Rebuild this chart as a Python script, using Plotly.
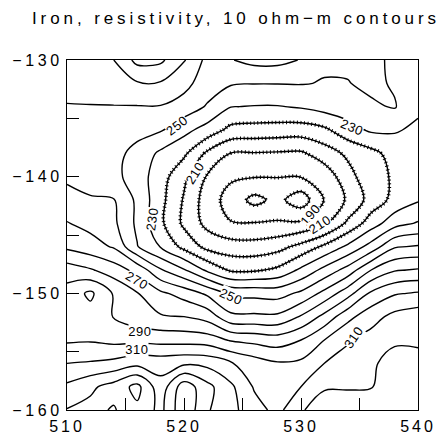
import plotly.graph_objects as go

# Grid of the survey (easting, northing)
x_east = [510, 512, 514, 516, 518, 520, 522, 524, 526, 528, 530, 532, 534, 536, 538, 540]
y_north = [-130, -132, -134, -136, -138, -140, -142, -144, -146, -148, -150, -152, -154, -156, -158, -160]

# Resistivity (ohm-m), one row per northing
row_m130 = [255, 257, 260, 273, 272, 261, 247, 249.5, 253, 253, 249.5, 241.5, 242.5, 244, 237, 236]
row_m132 = [253, 255, 257, 259, 259, 253, 245, 241, 240.3, 240.3, 240.5, 239.5, 239.5, 243, 238.5, 235]
row_m134 = [249.5, 249.5, 249.5, 249.5, 249.5, 246, 239, 230.3, 229.5, 229.5, 231, 234, 235.5, 238, 241, 232]
row_m136 = [247, 246, 245, 243, 241, 233, 226, 217, 216, 215.5, 215, 218, 226, 231.5, 231, 228]
row_m138 = [245, 244, 243, 237, 228, 222, 208, 199.8, 199.5, 199, 198.5, 205, 212, 217, 224, 225]
row_m140 = [248, 246, 243, 235, 224.5, 212, 199, 191.5, 190.5, 190.3, 190.5, 194, 206, 217, 221, 226]
row_m142 = [254, 251, 250.5, 238, 223, 209, 195, 186, 177, 183, 174, 190.5, 201.5, 214, 223, 229]
row_m144 = [260.5, 257, 252, 238, 222, 208, 197, 190.5, 190.5, 191, 192, 198, 212, 225, 236, 241]
row_m146 = [268, 264, 259, 240.5, 229.5, 217, 207, 204.5, 204, 206.5, 213, 222, 232, 244, 259, 261]
row_m148 = [285, 281, 275, 267, 251, 241, 228, 218.5, 218.5, 222, 232, 243, 254, 270, 279, 281]
row_m150 = [294, 302, 289, 280.5, 272, 266, 258, 247.5, 247, 246, 252, 263, 276, 292, 299, 301]
row_m152 = [296, 296, 289.5, 284, 281, 280, 276, 262.5, 262, 262, 271, 283, 297, 306, 313, 316]
row_m154 = [298.5, 299, 297, 297.5, 296.5, 296, 295, 289, 287, 285, 290, 300, 309, 314, 318, 319]
row_m156 = [310, 311, 313, 317, 316, 318, 317, 311, 305, 301, 302, 310, 314, 318, 325, 322]
row_m158 = [322, 328, 334, 343, 323.5, 346, 333, 322, 309, 305, 310, 319, 319, 319.5, 324, 323]
row_m160 = [330.5, 333, 329, 338, 327, 348, 331, 323, 314, 307, 319, 325, 326, 327, 326, 323]

resistivity = [row_m130, row_m132, row_m134, row_m136, row_m138, row_m140, row_m142, row_m144,
               row_m146, row_m148, row_m150, row_m152, row_m154, row_m156, row_m158, row_m160]

# contour levels: depressions (hachured) and the rest
low_start, low_end = 180, 220
high_start, high_end = 230, 350
interval = 10

# contour labels as printed on the map
label_text = ["250", "230", "210", "230", "190", "210", "270", "250", "290", "310", "310"]
label_x = [519.4, 534.4, 520.9, 517.3, 530.8, 531.6, 516.0, 524.0, 516.2, 516.0, 534.5]
label_y = [-135.6, -135.8, -139.7, -143.6, -143.2, -144.1, -148.9, -150.3, -153.3, -154.8, -153.8]
label_angle = [-38, 22, -58, -82, -50, -32, 30, 24, 0, 0, -55]

FONT = "Liberation Sans, Arial, sans-serif"

fig = go.Figure()

common = dict(x=x_east, y=y_north, z=resistivity, showscale=False, hoverinfo="skip")

fig.add_trace(go.Contour(
    **common,
    contours=dict(coloring="none", start=high_start, end=high_end, size=interval, showlabels=False),
    line=dict(color="black", width=1.4, smoothing=1.0),
))
fig.add_trace(go.Contour(
    **common,
    contours=dict(coloring="none", start=low_start, end=low_end, size=interval, showlabels=False),
    line=dict(color="black", width=1.4, smoothing=1.0),
))
# hachure marks on depression contours
fig.add_trace(go.Contour(
    **common,
    contours=dict(coloring="none", start=low_start, end=low_end, size=interval, showlabels=False),
    line=dict(color="black", width=3.6, dash="1px,2.6px", smoothing=1.0),
))

for t, lx, ly, ang in zip(label_text, label_x, label_y, label_angle):
    fig.add_annotation(x=lx, y=ly, text=t, textangle=ang, showarrow=False,
                       font=dict(family=FONT, size=13, color="black"),
                       bgcolor="white", borderpad=0)

axis_common = dict(
    showgrid=False, zeroline=False, automargin=False,
    showline=True, linecolor="black", linewidth=1.3, mirror=True,
    ticks="inside", ticklen=12, tickwidth=1.3, tickcolor="black",
    tickfont=dict(family=FONT, size=16, color="black"),
    dtick=10,
)

fig.update_layout(
    width=442, height=440, autosize=False,
    margin=dict(l=67, r=24, t=60, b=30),
    paper_bgcolor="white", plot_bgcolor="white",
    title=dict(text="Iron, resistivity, 10 ohm\u2212m contours",
               xref="container", x=32 / 442, xanchor="left", y=0.958, yanchor="middle",
               font=dict(family=FONT, size=17, color="black")),
    xaxis=dict(range=[510, 540], tick0=510, ticklabelstandoff=2,
               minor=dict(ticks="inside", ticklen=12, tickwidth=1.3, tickcolor="black", dtick=5, tick0=510, showgrid=False),
               **axis_common),
    yaxis=dict(range=[-160, -130], tick0=-160,
               minor=dict(ticks="inside", ticklen=12, tickwidth=1.3, tickcolor="black", dtick=5, tick0=-160, showgrid=False),
               **axis_common),
    showlegend=False,
)

post = """
var s = document.createElement('style');
s.innerHTML = '.gtitle{letter-spacing:3.9px} .xtick text{letter-spacing:3px} .ytick text{letter-spacing:3.6px} .annotation-text{letter-spacing:0.5px}';
document.head.appendChild(s);
"""

fig.write_html("out.html", post_script=post)
